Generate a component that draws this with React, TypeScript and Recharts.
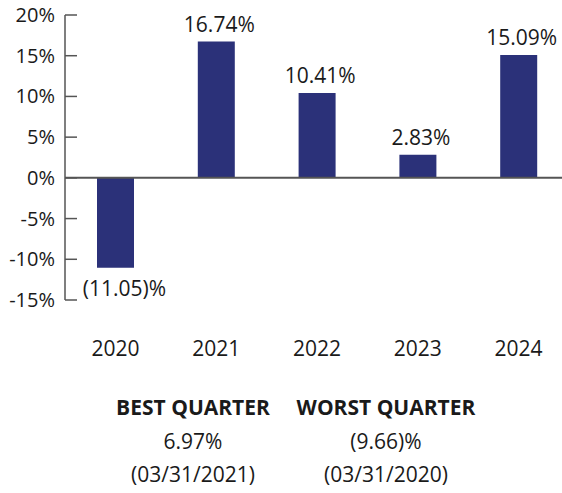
import { Bar, BarChart, LabelList, ReferenceLine, XAxis, YAxis } from "recharts";

const years = ["2020", "2021", "2022", "2023", "2024"];
const returns = [-11.05, 16.74, 10.41, 2.83, 15.09];
const yTicks = [-15, -10, -5, 0, 5, 10, 15, 20];

const bestQuarter = { label: "BEST QUARTER", value: "6.97%", date: "(03/31/2021)" };
const worstQuarter = { label: "WORST QUARTER", value: "(9.66)%", date: "(03/31/2020)" };

const FONT = "'Open Sans', sans-serif";
const INK = "#1a1a1a";
const AXIS = "#555555";
const NAVY = "#2b3179";

const data = years.map((year, i) => ({ year, value: returns[i] }));

const fmtPct = (v: number) => (v < 0 ? `(${Math.abs(v).toFixed(2)})%` : `${v.toFixed(2)}%`);

function YTick({ x, y, payload }: any) {
  return (
    <g>
      <line x1={x + 10} x2={x + 22} y1={y} y2={y} stroke={AXIS} strokeWidth={1.5} />
      <text x={x} y={y} dy={7} textAnchor="end" fontSize={20} fill={INK} fontFamily={FONT}>
        {payload.value}%
      </text>
    </g>
  );
}

function XTick({ x, y, payload }: any) {
  return (
    <text x={x} y={y + 56} textAnchor="middle" fontSize={21} fill={INK} fontFamily={FONT}>
      {payload.value}
    </text>
  );
}

function ValueLabel({ x, y, width, height, value }: any) {
  const top = Math.min(y, y + height);
  const bottom = Math.max(y, y + height);
  const neg = value < 0;
  return (
    <text
      x={x + width / 2 + (neg ? 9 : 3)}
      y={neg ? bottom + 28 : top - 10}
      textAnchor="middle"
      fontSize={21}
      fill={INK}
      fontFamily={FONT}
    >
      {fmtPct(value)}
    </text>
  );
}

export default function App() {
  const cols = [
    { cx: 193, q: bestQuarter },
    { cx: 386, q: worstQuarter }
  ];
  return (
    <div style={{ position: "absolute", left: 0, top: 0, width: 562, height: 493, overflow: "hidden", background: "#fff" }}>
      <BarChart width={579} height={370} data={data} margin={{ top: 15, right: 10, left: 0, bottom: 0 }}>
        <YAxis
          width={65}
          domain={[-15, 20]}
          ticks={yTicks}
          interval={0}
          tickSize={0}
          tickMargin={10}
          tickLine={false}
          axisLine={{ stroke: AXIS, strokeWidth: 1.5 }}
          tick={<YTick />}
        />
        <XAxis
          dataKey="year"
          height={70}
          axisLine={false}
          tickLine={false}
          tickSize={0}
          tickMargin={0}
          interval={0}
          tick={<XTick />}
        />
        <Bar dataKey="value" fill={NAVY} barSize={37} isAnimationActive={false}>
          <LabelList dataKey="value" content={<ValueLabel />} />
        </Bar>
        <ReferenceLine y={0} stroke={AXIS} strokeWidth={2} />
      </BarChart>
      <svg width={562} height={123} style={{ position: "absolute", left: 0, top: 370 }}>
        {cols.map(({ cx, q }) => (
          <g key={q.label} fontFamily={FONT} fill={INK} textAnchor="middle">
            <text x={cx} y={45} fontSize={21} fontWeight={700}>
              {q.label}
            </text>
            <text x={cx} y={79} fontSize={21}>
              {q.value}
            </text>
            <text x={cx} y={112} fontSize={21}>
              {q.date}
            </text>
          </g>
        ))}
      </svg>
    </div>
  );
}
